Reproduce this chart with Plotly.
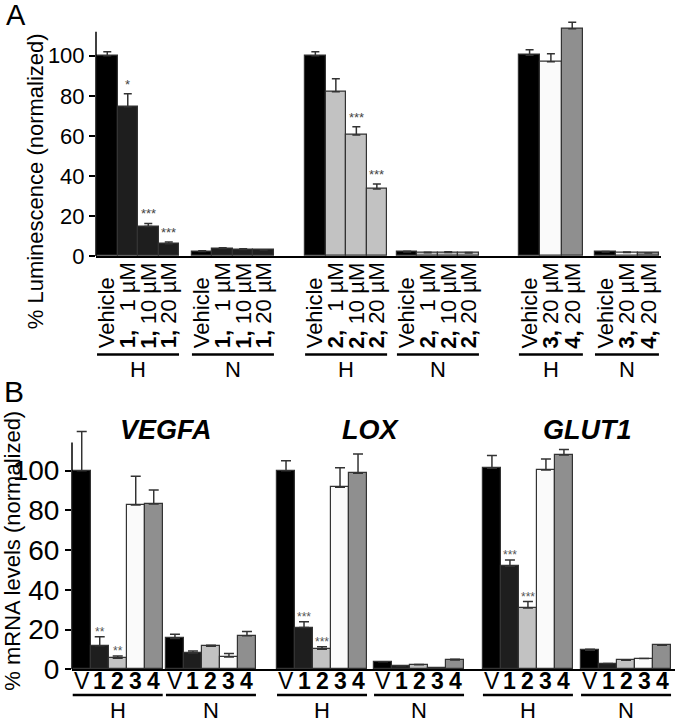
import plotly.graph_objects as go

FONT = "Liberation Sans, Arial, sans-serif"
# positions below are read in reference pixels (677 x 722); the photographed
# page comes out squeezed vertically by about 722/739, so the figure is made
# 739 px tall and placed with paper fractions of the 722 px reference
W, H = 677, 722
FIG_H = 739

# treatment colours
C_VEH = "#000000"
C_1 = "#1e1e1e"
C_2 = "#c2c2c2"
C_3 = "#fafafa"
C_4 = "#8f8f8f"
EDGE = "#333333"

# ---------------- panel A : luminescence (% of vehicle) ----------------
a_lab_1 = ["Vehicle", "<b>1,</b> \u20071 µM", "<b>1,</b> 10 µM", "<b>1,</b> 20 µM"]
a_lab_2 = ["Vehicle", "<b>2,</b> \u20071 µM", "<b>2,</b> 10 µM", "<b>2,</b> 20 µM"]
a_lab_34 = ["Vehicle", "<b>3,</b> 20 µM", "<b>4,</b> 20 µM"]

lum_1_H = [100, 74.5, 14.8, 6.2]
err_1_H = [2.0, 6.5, 1.5, 0.8]
star_1_H = ["", "*", "***", "***"]
lum_1_N = [2.3, 3.8, 3.3, 3.0]
err_1_N = [0.3, 0.4, 0.4, 0.2]

lum_2_H = [100, 82, 60.5, 33.5]
err_2_H = [2.0, 6.5, 4.0, 2.5]
star_2_H = ["", "", "***", "***"]
lum_2_N = [2.0, 1.6, 1.8, 1.5]
err_2_N = [0.4, 0.3, 0.4, 0.3]

lum_34_H = [100.3, 97, 113.5]
err_34_H = [2.7, 4.0, 3.2]
lum_34_N = [2.0, 1.8, 1.5]
err_34_N = [0.3, 0.2, 0.0]

# ---------------- panel B : mRNA levels ----------------
genes = ["VEGFA", "LOX", "GLUT1"]
b_lab = ["V", "<b>1</b>", "<b>2</b>", "<b>3</b>", "<b>4</b>"]

vegfa_H = [100, 11.8, 5.5, 82.7, 83.2]
vegfa_H_err = [19.7, 4.5, 1.1, 14.5, 7.1]
vegfa_H_star = ["", "**", "**", "", ""]
vegfa_N = [15.5, 8.2, 11.6, 6.2, 16.8]
vegfa_N_err = [2.1, 1.0, 0.5, 1.7, 2.2]

lox_H = [100, 21, 10.1, 91.6, 98.7]
lox_H_err = [5.0, 2.9, 1.2, 9.8, 9.7]
lox_H_star = ["", "***", "***", "", ""]
lox_N = [3.7, 1.7, 2.2, 0.8, 4.7]
lox_N_err = [0, 0, 0.2, 0, 0.3]

glut1_H = [101.2, 51.8, 30.8, 100.3, 107.9]
glut1_H_err = [6.4, 3.2, 3.3, 5.6, 2.7]
glut1_H_star = ["", "***", "***", "", ""]
glut1_N = [9.6, 2.9, 4.5, 5.4, 12.1]
glut1_N_err = [0.5, 0, 0, 0, 0]


def px(p):
    return p / W


def py(p):
    return 1 - p / H


fig = go.Figure()
ann = []
shp = []

# ---- panel A groups: (values, errors, stars, colours, labels, condition, start slot, bar width)
groups_a = [
    (lum_1_H, err_1_H, star_1_H, [C_VEH, C_1, C_1, C_1], a_lab_1, "H", 0.05, 1.0),
    (lum_1_N, err_1_N, None, [C_VEH, C_1, C_1, C_1], a_lab_1, "N", 4.68, 1.0),
    (lum_2_H, err_2_H, star_2_H, [C_VEH, C_2, C_2, C_2], a_lab_2, "H", 10.2, 1.0),
    (lum_2_N, err_2_N, None, [C_VEH, C_2, C_2, C_2], a_lab_2, "N", 14.68, 1.0),
    (lum_34_H, err_34_H, None, [C_VEH, C_3, C_4], a_lab_34, "H", 20.63, 1.04),
    (lum_34_N, err_34_N, None, [C_VEH, C_3, C_4], a_lab_34, "N", 24.34, 1.04),
]
SA = 20.5
for vals, errs, stars, cols, labs, cond, start, w in groups_a:
    xs = [start + w * (i + 0.5) for i in range(len(vals))]
    fig.add_trace(go.Bar(
        x=xs, y=vals, width=[w] * len(vals), xaxis="x", yaxis="y",
        marker=dict(color=cols, line=dict(color=EDGE, width=1.2)),
        error_y=dict(type="data", array=errs, arrayminus=[0] * len(vals),
                     color=EDGE, thickness=1.5, width=4),
        showlegend=False, hoverinfo="skip"))
    for x, t in zip(xs, labs):
        ann.append(dict(x=x, xref="x", y=py(350), yref="paper", text=t, textangle=-90,
                        xanchor="center", yanchor="bottom", showarrow=False,
                        font=dict(size=22, color="black", family=FONT)))
    if stars:
        for x, v, e, s in zip(xs, vals, errs, stars):
            if s:
                ann.append(dict(x=x, xref="x", y=v + e, yref="y", text=s, showarrow=False,
                                xanchor="center", yanchor="bottom",
                                font=dict(size=13, color="#444", family=FONT)))
    shp.append(dict(type="line", xref="x", yref="paper", x0=start, x1=start + w * len(vals),
                    y0=py(354), y1=py(354), line=dict(color="black", width=2.5)))
    ann.append(dict(x=start + w * len(vals) / 2, xref="x", y=py(369), yref="paper", text=cond,
                    showarrow=False, xanchor="center", yanchor="middle",
                    font=dict(size=22, color="black", family=FONT)))

# ---- panel B groups
SB = 18.0
b_starts = [0.04, 5.22, 11.39, 16.78, 22.83, 28.28]
b_cols = [C_VEH, C_1, C_2, C_3, C_4]
groups_b = [
    (vegfa_H, vegfa_H_err, vegfa_H_star, "H"), (vegfa_N, vegfa_N_err, None, "N"),
    (lox_H, lox_H_err, lox_H_star, "H"), (lox_N, lox_N_err, None, "N"),
    (glut1_H, glut1_H_err, glut1_H_star, "H"), (glut1_N, glut1_N_err, None, "N"),
]
for (vals, errs, stars, cond), start in zip(groups_b, b_starts):
    xs = [start + i + 0.5 for i in range(len(vals))]
    fig.add_trace(go.Bar(
        x=xs, y=vals, width=[1.0] * len(vals), xaxis="x2", yaxis="y2",
        marker=dict(color=b_cols, line=dict(color=EDGE, width=1.2)),
        error_y=dict(type="data", array=errs, arrayminus=[0] * len(vals),
                     color=EDGE, thickness=1.5, width=5),
        showlegend=False, hoverinfo="skip"))
    for x, t in zip(xs, b_lab):
        ann.append(dict(x=x, xref="x2", y=py(680), yref="paper", text=t, showarrow=False,
                        xanchor="center", yanchor="middle",
                        font=dict(size=23, color="black", family=FONT)))
    if stars:
        for x, v, e, s in zip(xs, vals, errs, stars):
            if s:
                ann.append(dict(x=x, xref="x2", y=v + e, yref="y2", text=s, showarrow=False,
                                xanchor="center", yanchor="bottom", yshift=-4,
                                font=dict(size=12, color="#555", family=FONT)))
    shp.append(dict(type="line", xref="x2", yref="paper", x0=start, x1=start + len(vals),
                    y0=py(694), y1=py(694), line=dict(color="black", width=2.5)))
    ann.append(dict(x=start + len(vals) / 2, xref="x2", y=py(710), yref="paper", text=cond,
                    showarrow=False, xanchor="center", yanchor="middle",
                    font=dict(size=22, color="black", family=FONT)))

# gene names over each H/N pair
title_shift = [2, 0, 11]
for k, g in enumerate(genes):
    mid = (b_starts[2 * k] + 5 + b_starts[2 * k + 1]) / 2
    ann.append(dict(x=mid, xref="x2", y=py(429), yref="paper", text="<b><i>%s</i></b>" % g,
                    xshift=title_shift[k], showarrow=False, xanchor="center", yanchor="middle",
                    font=dict(size=27, color="black", family=FONT)))

# y axis lines drawn by hand so error bars can go above them
shp.append(dict(type="line", xref="paper", yref="y", x0=px(96), x1=px(96), y0=0, y1=112,
                line=dict(color="black", width=1.5)))
shp.append(dict(type="line", xref="paper", yref="y2", x0=px(72), x1=px(72), y0=0, y1=114.2,
                line=dict(color="black", width=1.5)))

# panel letters and axis titles
ann.append(dict(x=px(4), y=py(15), xref="paper", yref="paper", text="A", showarrow=False,
                xanchor="left", yanchor="middle", font=dict(size=29, color="black", family=FONT)))
ann.append(dict(x=px(2), y=py(391), xref="paper", yref="paper", text="B", showarrow=False,
                xanchor="left", yanchor="middle", font=dict(size=30, color="black", family=FONT)))
ann.append(dict(x=px(35), y=py(181), xref="paper", yref="paper", text="% Luminescence (normalized)",
                textangle=-90, showarrow=False, xanchor="center", yanchor="middle",
                font=dict(size=22, color="black", family=FONT)))
ann.append(dict(x=px(13), y=py(550), xref="paper", yref="paper", text="% mRNA levels (normalized)",
                textangle=-90, showarrow=False, xanchor="center", yanchor="middle",
                font=dict(size=22, color="black", family=FONT)))

common_x = dict(showline=True, linecolor="black", linewidth=1.5, showticklabels=False,
                ticks="", showgrid=False, zeroline=False, fixedrange=True)
common_y = dict(tickvals=[0, 20, 40, 60, 80, 100], ticks="outside", ticklen=6, tickwidth=1.5,
                tickcolor="black", showline=False, showgrid=False, zeroline=False, fixedrange=True)

fig.update_layout(
    width=W, height=FIG_H, autosize=False,
    margin=dict(l=0, r=0, t=0, b=0),
    paper_bgcolor="white", plot_bgcolor="white",
    barmode="overlay", bargap=0,
    font=dict(family=FONT, color="black"),
    xaxis=dict(domain=[px(96), px(661)], range=[0, 565 / SA], anchor="y", **common_x),
    yaxis=dict(domain=[py(255.7), py(15.7)], range=[0, 120], anchor="x",
               tickfont=dict(size=22, family=FONT), **common_y),
    xaxis2=dict(domain=[px(72), px(675)], range=[0, 603 / SB], anchor="y2", **common_x),
    yaxis2=dict(domain=[py(668.3), py(668.3 - 122 * 1.983)], range=[0, 122], anchor="x2",
                tickfont=dict(size=28, family=FONT), **common_y),
    annotations=ann,
    shapes=shp,
)

# pin the figure to the window corner (no default body margin, nothing below it)
pin = ("document.body.style.margin='0px';"
       "var gd=document.getElementsByClassName('plotly-graph-div')[0];"
       "gd.style.position='absolute';gd.style.left='0px';gd.style.top='0px';")
fig.write_html("out.html", config={"displayModeBar": False}, post_script=pin)
